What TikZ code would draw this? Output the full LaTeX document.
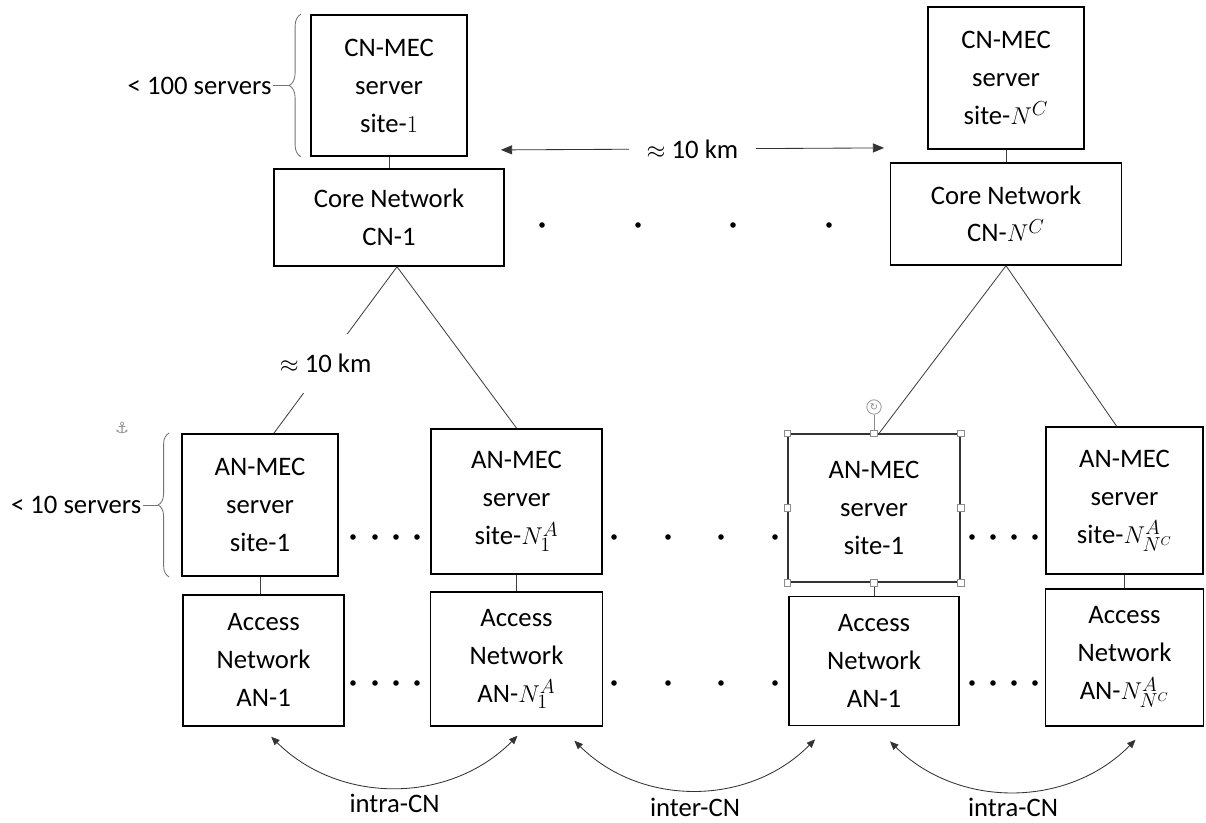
\documentclass[tikz,border=0pt]{standalone}
\usepackage{fontspec}
\setmainfont{Carlito}
\newfontfamily\symfont{DejaVu Sans}
\usetikzlibrary{arrows.meta, positioning, calc, decorations.pathreplacing}

\begin{document}
\begin{tikzpicture}[
        font=\fontsize{19}{27}\selectfont,
        mecbox/.style={rectangle, draw, line width=1.3pt, minimum width=3.9cm, minimum height=3.55cm, align=center, inner sep=0pt},
        netbox/.style={rectangle, draw, line width=1.3pt, minimum width=4.1cm, minimum height=3.3cm, align=center, inner sep=0pt},
        selbox/.style={mecbox, line width=0.8pt, draw=black!80},
        link/.style={draw=black!75, line width=0.6pt},
        arrowline/.style={{Triangle[length=8pt,width=6.5pt]}-{Triangle[length=8pt,width=6.5pt]}, draw=black!80, line width=0.6pt},
        hop/.style={{Triangle[length=6pt,width=5pt]}-{Triangle[length=6pt,width=5pt]}, draw=black!80, line width=0.6pt, bend right=45},
        brc/.style={draw=black!55, line width=0.6pt, decorate, decoration={brace, amplitude=#1}},
        handle/.style={rectangle, draw=black!45, fill=white, line width=0.5pt, minimum size=0.17cm, inner sep=0pt},
        lbl/.style={inner sep=1pt}
    ]
    \useasboundingbox (0,0) rectangle (30.15,20.575);

    % core network level
    \node[mecbox, minimum height=3.525cm] (cnmec1) at (9.725,18.4375) {CN-MEC\\server\\site-$1$};
    \node[netbox, below=0.275cm of cnmec1, minimum width=5.75cm, minimum height=2.425cm] (core1) {Core Network\\CN-1};
    \node[mecbox] (cnmecN) at (25.15,18.625) {CN-MEC\\server\\site-$N^C$};
    \node[netbox, below=0.3cm of cnmecN, minimum width=5.775cm, minimum height=2.55cm] (coreN) {Core Network\\CN-$N^C$};

    % access network level
    \node[mecbox] (anmec1) at (6.5,7.95) {AN-MEC\\server\\site-1};
    \node[netbox, below=0.425cm of anmec1, xshift=0.09cm, minimum width=4.025cm, minimum height=3.275cm] (acc1) {Access\\Network\\AN-1};
    \node[mecbox, minimum width=4.275cm, minimum height=3.625cm] (anmec1a) at (12.9125,8.0375) {AN-MEC\\server\\site-$N_1^A$};
    \node[netbox, below=0.4cm of anmec1a, minimum width=4.3cm, minimum height=3.35cm] (acc1a) {Access\\Network\\AN-$N_1^A$};
    \node[selbox, minimum width=4.3cm, minimum height=3.7cm] (anmec2) at (21.85,7.875) {AN-MEC\\server\\site-1};
    \node[netbox, below=0.325cm of anmec2, minimum width=4.25cm, minimum height=3.225cm] (acc2) {Access\\Network\\AN-1};
    \node[mecbox, minimum width=3.925cm, minimum height=3.675cm] (anmecN) at (28.1125,8.0625) {AN-MEC\\server\\site-$N_{N^C}^{A}$};
    \node[netbox, below=0.325cm of anmecN, minimum width=3.95cm, minimum height=3.425cm] (accN) {Access\\Network\\AN-$N_{N^C}^{A}$};

    % stacked links
    \draw[link] (cnmec1.south) -- (cnmec1.south |- core1.north);
    \draw[link] (cnmecN.south) -- (cnmecN.south |- coreN.north);
    \draw[link] (anmec1.south) -- (anmec1.south |- acc1.north);
    \draw[link] (anmec1a.south) -- (anmec1a.south |- acc1a.north);
    \draw[link] (anmec2.south) -- (anmec2.south |- acc2.north);
    \draw[link] (anmecN.south) -- (anmecN.south |- accN.north);

    % tree links
    \draw[link] ([xshift=0.2cm]core1.south) -- node[pos=0.58, fill=white, inner xsep=1pt, inner ysep=0.5cm] (dist2) {$\approx$ 10 km} ([xshift=0.35cm]anmec1.north);
    \draw[link] ([xshift=0.2cm]core1.south) -- (anmec1a.north);
    \draw[link] (coreN.south) -- ([xshift=0.125cm]anmec2.north);
    \draw[link] (coreN.south) -- ([xshift=-0.2cm]anmecN.north);

    % distance between core sites
    \draw[arrowline] ($(cnmec1.south east)+(0.825,0.175)$) -- node[fill=white, inner xsep=0.45cm] (dist1) {$\approx$ 10 km} ($(cnmecN.south west)+(-1.075,0.05)$);

    % braces
    \draw[brc=0.3cm] ([xshift=-0.225cm]cnmec1.south west) -- ([xshift=-0.225cm]cnmec1.north west);
    \coordinate (tip1) at ([xshift=-0.525cm]cnmec1.west);
    \node[lbl, left=0.4cm of tip1] (srv1) {< 100 servers};
    \draw[link, draw=black!55] (srv1) -- (tip1);
    \draw[brc=0.275cm] ([xshift=-0.3cm]anmec1.south west) -- ([xshift=-0.3cm]anmec1.north west);
    \coordinate (tip2) at ([xshift=-0.575cm]anmec1.west);
    \node[lbl, left=0.38cm of tip2] (srv2) {< 10 servers};
    \draw[link, draw=black!55] (srv2) -- (tip2);
    \node[text=black!45, font=\symfont\fontsize{11}{11}\selectfont] (anc) at ($(anmec1.north west)+(-1.475,0.125)$) {⚓};

    % dots
    \foreach \x in {13.55,15.95,18.325,20.725}
        \fill (\x,14.95) circle (0.07);
    \foreach \x in {8.825,9.375,9.9,10.425,15.35,16.7,18.025,19.375,24.3,24.825,25.35,25.875} {
        \fill (\x,7.15) circle (0.07);
        \fill (\x,3.5) circle (0.07);
    }

    % selection handles
    \node[circle, draw=black!40, line width=0.6pt, minimum size=0.36cm, inner sep=0pt, text=black!45, font=\symfont\fontsize{7}{7}\selectfont, above=0.47cm of anmec2.north] (rot) {↻};
    \draw[draw=black!45, line width=0.5pt] (rot) -- (anmec2.north);
    \foreach \a [count=\i] in {north west, north, north east, west, east, south west, south, south east}
        \node[handle] (h\i) at (anmec2.\a) {};

    % migrations
    \draw[hop] ($(acc1.south)+(0.19,-0.25)$) to node[below=1pt] (mig1) {intra-CN} ($(acc1a.south)+(0.025,-0.225)$);
    \draw[hop] ($(acc1a.south east)+(-0.725,-0.35)$) to node[below=2pt] (mig2) {inter-CN} ($(acc2.south west)+(0.675,-0.325)$);
    \draw[hop] ($(acc2.south)+(0.4,-0.375)$) to node[below=1pt] (mig3) {intra-CN} ($(accN.south)+(0.275,-0.325)$);
\end{tikzpicture}
\end{document}
